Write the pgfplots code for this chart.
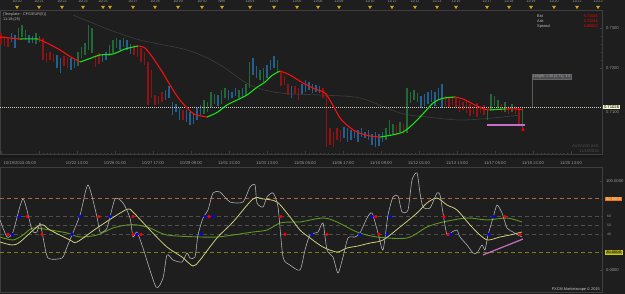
\documentclass[border=0pt]{standalone}
\usepackage{fontspec}
\setmainfont{Liberation Sans}
\usepackage{pgfplots}
\pgfplotsset{compat=1.18}
\usepackage{pgfplotstable}
\definecolor{bg}{RGB}{30,30,30}
\definecolor{strip}{RGB}{24,24,24}
\definecolor{frame}{RGB}{62,62,62}
\definecolor{txt}{RGB}{150,150,150}
\definecolor{barblue}{RGB}{35,95,145}
\definecolor{bargreen}{RGB}{35,105,55}
\definecolor{barred}{RGB}{145,18,18}
\definecolor{mared}{RGB}{245,15,15}
\definecolor{magreen}{RGB}{25,225,25}
\definecolor{slowma}{RGB}{58,58,58}
\definecolor{oscw}{RGB}{175,175,175}
\definecolor{oscy}{RGB}{205,205,125}
\definecolor{oscg}{RGB}{95,150,30}
\definecolor{lvlA}{RGB}{170,100,60}
\definecolor{lvlB}{RGB}{125,125,20}
\definecolor{lvlg}{RGB}{78,78,78}
\definecolor{pinkl}{RGB}{200,110,200}
\definecolor{tri}{RGB}{215,165,25}
\definecolor{tagbg}{RGB}{245,245,205}

\pgfplotstableread{
x lo hi
1 0.7260 0.72875
4.5 0.7255 0.7280
8 0.72525 0.7275
43 0.7220 0.7275
46.5 0.7215 0.72375
50 0.7220 0.7240
53.5 0.7215 0.7235
64 0.7205 0.7230
67.5 0.7200 0.72275
95.5 0.72025 0.72275
99 0.7210 0.72375
134 0.72325 0.72575
137.5 0.72275 0.72525
141 0.7215 0.7250
144.5 0.72075 0.7240
148 0.71075 0.7215
151.5 0.7125 0.7195
155 0.71075 0.71325
158.5 0.7110 0.7130
162 0.7115 0.7140
183 0.7070 0.7095
281 0.7155 0.7190
284.5 0.71575 0.7180
288 0.71325 0.7160
295 0.7135 0.7155
298.5 0.7120 0.7150
323 0.7125 0.7150
326.5 0.70025 0.71375
330 0.70075 0.7050
333.5 0.70025 0.7040
337 0.7020 0.7050
340.5 0.7015 0.7045
396.5 0.70325 0.70575
403.5 0.7035 0.7060
445.5 0.7105 0.7130
449 0.7100 0.7125
452.5 0.71075 0.7130
456 0.7100 0.7125
459.5 0.7090 0.7120
463 0.7095 0.7115
466.5 0.70875 0.7120
470 0.7080 0.7110
473.5 0.7085 0.7105
477 0.70775 0.71125
480.5 0.70875 0.7105
484 0.70825 0.71075
501.5 0.7090 0.7110
508.5 0.7085 0.7105
515.5 0.7085 0.7105
519 0.7055 0.7100
}\redbars

\pgfplotstableread{
x lo hi
11.5 0.7265 0.72875
15 0.7250 0.72825
29 0.72625 0.72825
32.5 0.72625 0.7280
57 0.7200 0.72325
60.5 0.71875 0.7225
71 0.7195 0.7225
74.5 0.7200 0.7220
102.5 0.7215 0.7235
106 0.7220 0.7240
120 0.7245 0.7270
127 0.7245 0.7270
130.5 0.7235 0.7260
165.5 0.7120 0.7145
169 0.7125 0.7155
172.5 0.70825 0.7115
176 0.7090 0.7110
179.5 0.7070 0.7100
186.5 0.7065 0.7095
190 0.70575 0.7090
193.5 0.7060 0.7085
197 0.7070 0.7100
200.5 0.70825 0.71075
218 0.7105 0.71325
228.5 0.7120 0.7145
232 0.7125 0.7140
235.5 0.7130 0.7150
242.5 0.71275 0.7150
253 0.71825 0.7225
256.5 0.7175 0.7205
267 0.7175 0.72075
270.5 0.7195 0.7220
274 0.7200 0.7230
291.5 0.7125 0.7155
302 0.7135 0.7160
305.5 0.7140 0.7170
309 0.7145 0.7165
312.5 0.71375 0.7160
316 0.7140 0.71575
319.5 0.71375 0.7155
344 0.7025 0.70525
347.5 0.7015 0.7050
351 0.7020 0.7045
354.5 0.7025 0.70425
358 0.7015 0.7045
361.5 0.70275 0.7050
365 0.7025 0.7040
368.5 0.7020 0.7045
372 0.70075 0.7035
375.5 0.70025 0.7040
379 0.7005 0.7035
382.5 0.7015 0.7040
421 0.7100 0.7130
424.5 0.7105 0.7135
428 0.7110 0.7140
431.5 0.7115 0.7145
435 0.7105 0.7140
438.5 0.7120 0.7150
442 0.7100 0.7160
}\bluebars

\pgfplotstableread{
x lo hi
18.5 0.7270 0.7300
22 0.72775 0.73075
25.5 0.7270 0.7295
36 0.7260 0.72875
39.5 0.7265 0.7280
78 0.7205 0.7240
81.5 0.7225 0.72525
85 0.72325 0.72625
88.5 0.7245 0.73075
92 0.72375 0.7300
109.5 0.7230 0.72575
113 0.72375 0.7270
116.5 0.7250 0.7275
123.5 0.72525 0.7275
204 0.7085 0.7120
207.5 0.7090 0.7115
211 0.71025 0.7140
214.5 0.7110 0.7135
221.5 0.7110 0.7145
225 0.7125 0.7150
239 0.7125 0.7145
246 0.71325 0.7160
249.5 0.7150 0.7215
260 0.7170 0.7195
263.5 0.7165 0.7200
277.5 0.7190 0.7220
386 0.7020 0.7050
389.5 0.70325 0.7070
393 0.7035 0.7060
400 0.7040 0.7065
407 0.70375 0.7150
410.5 0.71125 0.7140
414 0.7120 0.7145
417.5 0.7115 0.71375
487.5 0.7070 0.7095
491 0.7095 0.7135
494.5 0.7105 0.7130
498 0.7100 0.7120
505 0.7090 0.7115
512 0.7090 0.7110
522.5 0.7050 0.7100
}\greenbars

\begin{document}
\begin{tikzpicture}
\useasboundingbox (0bp,0bp) rectangle (625bp,294bp);
\fill[bg] (0bp,0bp) rectangle (625bp,294bp);
% time-scale strip under the price panel
\fill[strip] (0bp,136bp) rectangle (602bp,140bp);

% ---------- top event strip ----------
\begin{axis}[at={(0bp,284bp)}, anchor=south west, scale only axis,
  width=602bp, height=10bp, xmin=0, xmax=602, ymin=0, ymax=10,
  hide axis, clip=false]
\addplot[only marks, mark=triangle*, mark size=1.7bp, color=tri,
  every mark/.append style={rotate=180},
  nodes near coords, point meta=explicit symbolic,
  every node near coord/.append style={font=\fontsize{3.8}{4}\selectfont, text=txt, anchor=south, yshift=1.2bp}]
coordinates {(17,3) [10/20] (39,3) [10/21] (62,3) [10/22] (83,3) [10/23] (103,3) [10/25]
 (133,3) [10/27] (155,3) [10/28] (178,3) [10/29] (202,3) [10/30] (222,3) [Nov]
 (250,3) [11/03] (274,3) [11/04] (297,3) [11/05] (318,3) [11/06] (339,3) [11/08]
 (370,3) [11/10] (392,3) [11/11] (415,3) [11/12] (437,3) [11/13] (456,3) [11/15]
 (487,3) [11/17] (509,3) [11/18] (531,3) [11/19] (554,3) [11/20] (577,3) [11/21] (598,3) [11/22]};
\addplot[only marks, mark=triangle*, mark size=1.7bp, color=tri,
  every mark/.append style={rotate=180}] coordinates {(110,3)};
\end{axis}

% ---------- price panel ----------
\begin{axis}[at={(0bp,140bp)}, anchor=south west, scale only axis,
  width=602bp, height=144bp,
  xmin=0, xmax=602, ymin=0.6985, ymax=0.7345, clip=false,
  axis line style={draw=frame},
  tick style={draw=frame}, major tick length=2.5bp, minor tick length=1.2bp,
  xtick pos=bottom, ytick pos=right,
  xtick={39,77,115,153,191,229,267,305,343,381,419,457,495,533,571},
  xticklabels={,10/22 13:00,10/26 01:00,10/27 17:00,10/29 09:00,11/01 21:00,11/03 13:00,11/05 05:00,11/06 17:00,11/10 09:00,11/12 01:00,11/13 13:00,11/17 05:00,11/18 21:00,11/20 13:00},
  extra x ticks={1}, extra x tick labels={10/19/2015 05:00},
  extra x tick style={xticklabel style={anchor=north west, xshift=-1bp}},
  minor x tick num=9,
  ytick={0.72,0.73}, yticklabels={0.7200,0.7300},
  minor y tick num=4,
  tick label style={font=\fontsize{4.2}{5}\selectfont, text=txt},
  xticklabel style={yshift=-3.5bp},
  yticklabel style={xshift=0.5bp},
  /pgf/number format/assume math mode=true]
% slow moving average
\addplot[slowma, line width=0.7bp, smooth] coordinates {(73,0.73325)(90,0.7315)(110,0.7295)(140,0.7270)(187,0.7245)(217,0.72125)(250,0.71575)(280,0.71375)(320,0.71325)(360,0.7125)(400,0.70875)(427,0.70775)(460,0.7070)(493,0.7075)(520,0.70825)};
% bars
\addplot[draw=none, forget plot, error bars/.cd, y dir=plus, y explicit, error mark=none,
  error bar style={draw=barblue, line width=1.1bp}]
  table[x=x, y=lo, y error plus expr={\thisrow{hi}-\thisrow{lo}}] {\bluebars};
\addplot[draw=none, forget plot, error bars/.cd, y dir=plus, y explicit, error mark=none,
  error bar style={draw=bargreen, line width=1.1bp}]
  table[x=x, y=lo, y error plus expr={\thisrow{hi}-\thisrow{lo}}] {\greenbars};
\addplot[draw=none, forget plot, error bars/.cd, y dir=plus, y explicit, error mark=none,
  error bar style={draw=barred, line width=1.1bp}]
  table[x=x, y=lo, y error plus expr={\thisrow{hi}-\thisrow{lo}}] {\redbars};
% current price dotted line
\addplot[color={rgb,255:red,205;green,205;blue,185}, line width=0.7bp, dash pattern=on 1bp off 1bp] coordinates {(0,0.71026)(602,0.71026)};
% trend MA (red falling / green rising)
\addplot[mared, line width=1.1bp, smooth] coordinates {(0,0.72775)(10,0.7275)(20,0.72725)};
\addplot[magreen, line width=1.1bp, smooth] coordinates {(20,0.72725)(30,0.7273)(38,0.72725)};
\addplot[mared, line width=1.1bp, smooth] coordinates {(38,0.72725)(48,0.72613)(60,0.7245)(70,0.72288)(80,0.7215)};
\addplot[magreen, line width=1.1bp, smooth] coordinates {(80,0.7215)(90,0.72238)(100,0.72325)(113,0.7235)(125,0.72475)(138,0.7255)};
\addplot[mared, line width=1.1bp, smooth] coordinates {(138,0.7255)(145,0.7250)(153,0.7225)(162,0.71913)(170,0.71575)(178,0.71263)(187,0.7100)(195,0.70838)(207,0.70775)};
\addplot[magreen, line width=1.1bp, smooth] coordinates {(207,0.70775)(217,0.70888)(227,0.71075)(237,0.7120)(247,0.71325)(256,0.7150)(265,0.7165)(272,0.71813)(280,0.71925)};
\addplot[mared, line width=1.1bp, smooth] coordinates {(280,0.71925)(290,0.71825)(303,0.71625)(315,0.71475)(325,0.71375)(333,0.71063)(340,0.7075)(348,0.7055)(357,0.7040)(370,0.7030)(380,0.70275)};
\addplot[magreen, line width=1.1bp, smooth] coordinates {(380,0.70275)(392,0.70325)(403,0.7040)(412,0.70575)(420,0.70775)(427,0.70963)(433,0.71125)(442,0.71238)(455,0.71275)};
\addplot[mared, line width=1.1bp, smooth] coordinates {(455,0.71275)(463,0.71225)(470,0.71138)(477,0.7105)(484,0.70975)(490,0.7095)};
\addplot[magreen, line width=1.1bp, smooth] coordinates {(490,0.7095)(497,0.70963)(505,0.70975)};
\addplot[mared, line width=1.1bp, smooth] coordinates {(505,0.70975)(517,0.70975)(523,0.7095)};
% pink support line and signal
\addplot[pinkl, line width=1.2bp] coordinates {(487,0.70575)(525,0.70575)};
\addplot[only marks, mark=triangle*, mark size=1.7bp, color=red] coordinates {(523,0.7046)};
% measurement label
\addplot[color={rgb,255:red,90;green,90;blue,90}, line width=0.6bp] coordinates {(532,0.71725)(532,0.71026)};
\node[fill={rgb,255:red,78;green,78;blue,82}, draw={rgb,255:red,100;green,100;blue,100}, line width=0.3bp, inner sep=0.7bp, anchor=south west,
  font=\fontsize{3.6}{4}\selectfont, text={rgb,255:red,170;green,170;blue,170}] at (axis cs:532,0.7172) {Length: 1.30 (0.71), 3.0};
% annotations
\node[anchor=north west, inner sep=0pt, align=left, font=\fontsize{3.8}{4.3}\selectfont, text={rgb,255:red,185;green,185;blue,185}] at (axis cs:3,0.7338) {[Template : CFG/EUR(5)]\\11:18:(25)};
\node[anchor=west, inner sep=0pt, font=\fontsize{3.9}{4.3}\selectfont, text={rgb,255:red,190;green,190;blue,190}] at (axis cs:537,0.7330) {Bid};
\node[anchor=west, inner sep=0pt, font=\fontsize{3.9}{4.3}\selectfont, text={rgb,255:red,190;green,190;blue,190}] at (axis cs:537,0.73175) {Ask};
\node[anchor=west, inner sep=0pt, font=\fontsize{3.9}{4.3}\selectfont, text={rgb,255:red,190;green,190;blue,190}] at (axis cs:537,0.7305) {Spread};
\node[anchor=east, inner sep=0pt, font=\fontsize{3.9}{4.3}\selectfont, text=red] at (axis cs:598,0.7330) {0.71026};
\node[anchor=east, inner sep=0pt, font=\fontsize{3.9}{4.3}\selectfont, text=red] at (axis cs:598,0.73175) {0.71044};
\node[anchor=east, inner sep=0pt, font=\fontsize{3.9}{4.3}\selectfont, text=red] at (axis cs:598,0.7305) {1.80000};
\node[anchor=east, inner sep=0pt, align=right, font=\fontsize{4}{4.6}\selectfont, text={rgb,255:red,78;green,78;blue,78}] at (axis cs:599,0.6999) {AUD/USD (H4)\\11/18/2015};
\node[anchor=west, inner sep=0.8bp, fill=tagbg, text=black, font=\fontsize{4.2}{5}\selectfont] at (axis cs:603,0.71026) {0.71026};
\node[anchor=west, inner sep=0pt, font=\fontsize{4.2}{5}\selectfont, text=txt] at (axis cs:606,0.7091) {0.7100};
\end{axis}

% ---------- oscillator panel ----------
\begin{axis}[at={(0bp,2bp)}, anchor=south west, scale only axis,
  width=602bp, height=125bp,
  xmin=0, xmax=602, ymin=-24.7, ymax=115.7, clip=false,
  axis line style={draw=frame},
  tick style={draw=frame}, major tick length=2.5bp, minor tick length=1.2bp,
  xtick=\empty, ytick pos=right,
  ytick={0,100}, yticklabels={0.0000,100.0000},
  minor y tick num=4,
  tick label style={font=\fontsize{4.2}{5}\selectfont, text=txt},
  yticklabel style={xshift=0.5bp},
  /pgf/number format/assume math mode=true]
% levels
\addplot[lvlA, line width=0.8bp, dash pattern=on 4bp off 3bp] coordinates {(0,80)(602,80)};
\addplot[lvlB, line width=0.8bp, dash pattern=on 4bp off 3bp] coordinates {(0,20)(602,20)};
\addplot[lvlg, line width=0.6bp, dash pattern=on 4bp off 3bp] coordinates {(0,60)(602,60)};
\addplot[lvlg, line width=0.6bp, dash pattern=on 4bp off 3bp] coordinates {(0,50)(602,50)};
\addplot[lvlg, line width=0.6bp, dash pattern=on 4bp off 3bp] coordinates {(0,40)(602,40)};
% slow green line
\addplot[oscg, line width=0.9bp, smooth] coordinates {(0,37.1)(13,33.7)(23,39.3)(33,47.2)(50,44.9)(67,41.6)(80,37.1)(97,39.3)(113,47.2)(127,50.6)(137,50.6)(150,47.2)(167,39.3)(200,37.1)(217,37.1)(233,39.3)(253,42.7)(267,44.9)(280,52.8)(293,53.9)(300,53.9)(323,58.4)(337,53.9)(357,42.7)(377,37.1)(407,36.0)(427,48.3)(443,53.9)(467,58.4)(487,56.2)(507,58.4)(522,53.9)};
% yellow signal line
\addplot[oscy, line width=0.8bp, smooth] coordinates {(0,31.5)(12,28.1)(20,31.5)(40,50.6)(50,44.9)(70,33.7)(77,31.5)(97,47.2)(117,61.8)(128,68.5)(133,65.2)(150,44.9)(167,25.8)(182,14.6)(193,4.5)(200,11.2)(217,36.0)(233,53.9)(253,79.8)(263,79.8)(277,76.4)(290,59.6)(300,44.9)(310,36.0)(323,25.8)(337,20.2)(347,24.7)(358,27.0)(370,30.3)(383,33.7)(400,48.3)(417,64.0)(427,75.3)(437,80.9)(447,73.0)(457,67.4)(470,50.6)(480,39.3)(488,33.7)(500,37.1)(510,39.3)(522,42.7)};
% fast white line
\addplot[oscw, line width=0.6bp, smooth, tension=0.4] coordinates {(0,56.2)(7,37.1)(13,42.7)(23,79.8)(32,44.9)(37,42.7)(40,52.8)(43,37.1)(48,13.5)(62,13.5)(67,25.8)(80,61.8)(88,95.5)(97,59.6)(100,42.7)(107,47.2)(115,79.8)(123,75.3)(130,58.4)(133,37.1)(137,42.7)(143,24.7)(156,-19.1)(163,-9.0)(167,16.9)(173,11.2)(182,9.0)(187,19.1)(190,13.5)(195,14.6)(198,39.3)(203,58.4)(208,67.4)(213,86.5)(220,87.6)(230,76.4)(243,76.4)(250,93.3)(255,95.5)(257,75.3)(263,70.8)(267,82.0)(273,86.5)(278,70.8)(283,14.6)(290,5.6)(300,0)(305,22.5)(310,39.3)(318,42.7)(323,52.8)(327,22.5)(333,14.6)(338,-3.4)(343,14.6)(348,36.0)(355,37.1)(360,41.6)(367,58.4)(372,64.0)(378,41.6)(383,22.5)(388,61.8)(393,82.0)(398,83.1)(402,65.2)(408,67.4)(412,101.1)(417,109.0)(420,86.5)(423,70.8)(430,69.7)(437,86.5)(440,84.3)(443,64.0)(447,39.3)(452,42.7)(457,44.9)(460,37.1)(467,28.1)(473,19.1)(477,19.1)(482,28.1)(485,22.5)(488,39.3)(493,58.4)(497,73.0)(502,64.0)(507,47.2)(513,42.7)(518,39.3)(522,37.1)};
% divergence line
\addplot[pinkl, line width=1.2bp] coordinates {(483,16.9)(523,34.8)};
% crossing dots
\addplot[only marks, mark=*, mark size=1.4bp, color=red] coordinates {(27,60)(99,60)(133,60)(209,60)(281,60)(376,60)(444,60)(505,60)(8,40)(42,40)(133,40)(141,40)(285,40)(327,40)(379,40)(448,40)(520,40)};
\addplot[only marks, mark=*, mark size=1.4bp, color=blue] coordinates {(19,60)(80,60)(110,60)(205,60)(213,60)(372,60)(390,60)(493,60)(12,40)(72,40)(137,40)(201,40)(312,40)(360,40)(387,40)(451,40)(489,40)};
% right-side level labels
\node[anchor=west, inner sep=0.8bp, fill={rgb,255:red,235;green,120;blue,20}, text={rgb,255:red,250;green,230;blue,200}, font=\fontsize{4.2}{5}\selectfont] at (axis cs:605,80) {80.0000};
\node[anchor=west, inner sep=0.8bp, fill={rgb,255:red,150;green,150;blue,20}, draw={rgb,255:red,200;green,200;blue,40}, line width=0.4bp, text={rgb,255:red,30;green,30;blue,10}, font=\fontsize{4.2}{5}\selectfont] at (axis cs:605,20) {20.0000};
\node[anchor=west, inner sep=0pt, font=\fontsize{3.4}{4}\selectfont, text=txt] at (axis cs:607,60) {60};
\node[anchor=west, inner sep=0pt, font=\fontsize{3.4}{4}\selectfont, text=txt] at (axis cs:607,50) {50};
\node[anchor=west, inner sep=0pt, font=\fontsize{3.4}{4}\selectfont, text=txt] at (axis cs:607,40) {40};
\node[anchor=east, inner sep=0pt, font=\fontsize{3.9}{4.5}\selectfont, text={rgb,255:red,200;green,200;blue,200}] at (axis cs:600,-21.4) {FXCM Marketscope \textcopyright\ 2015};
\end{axis}
\end{tikzpicture}
\end{document}
